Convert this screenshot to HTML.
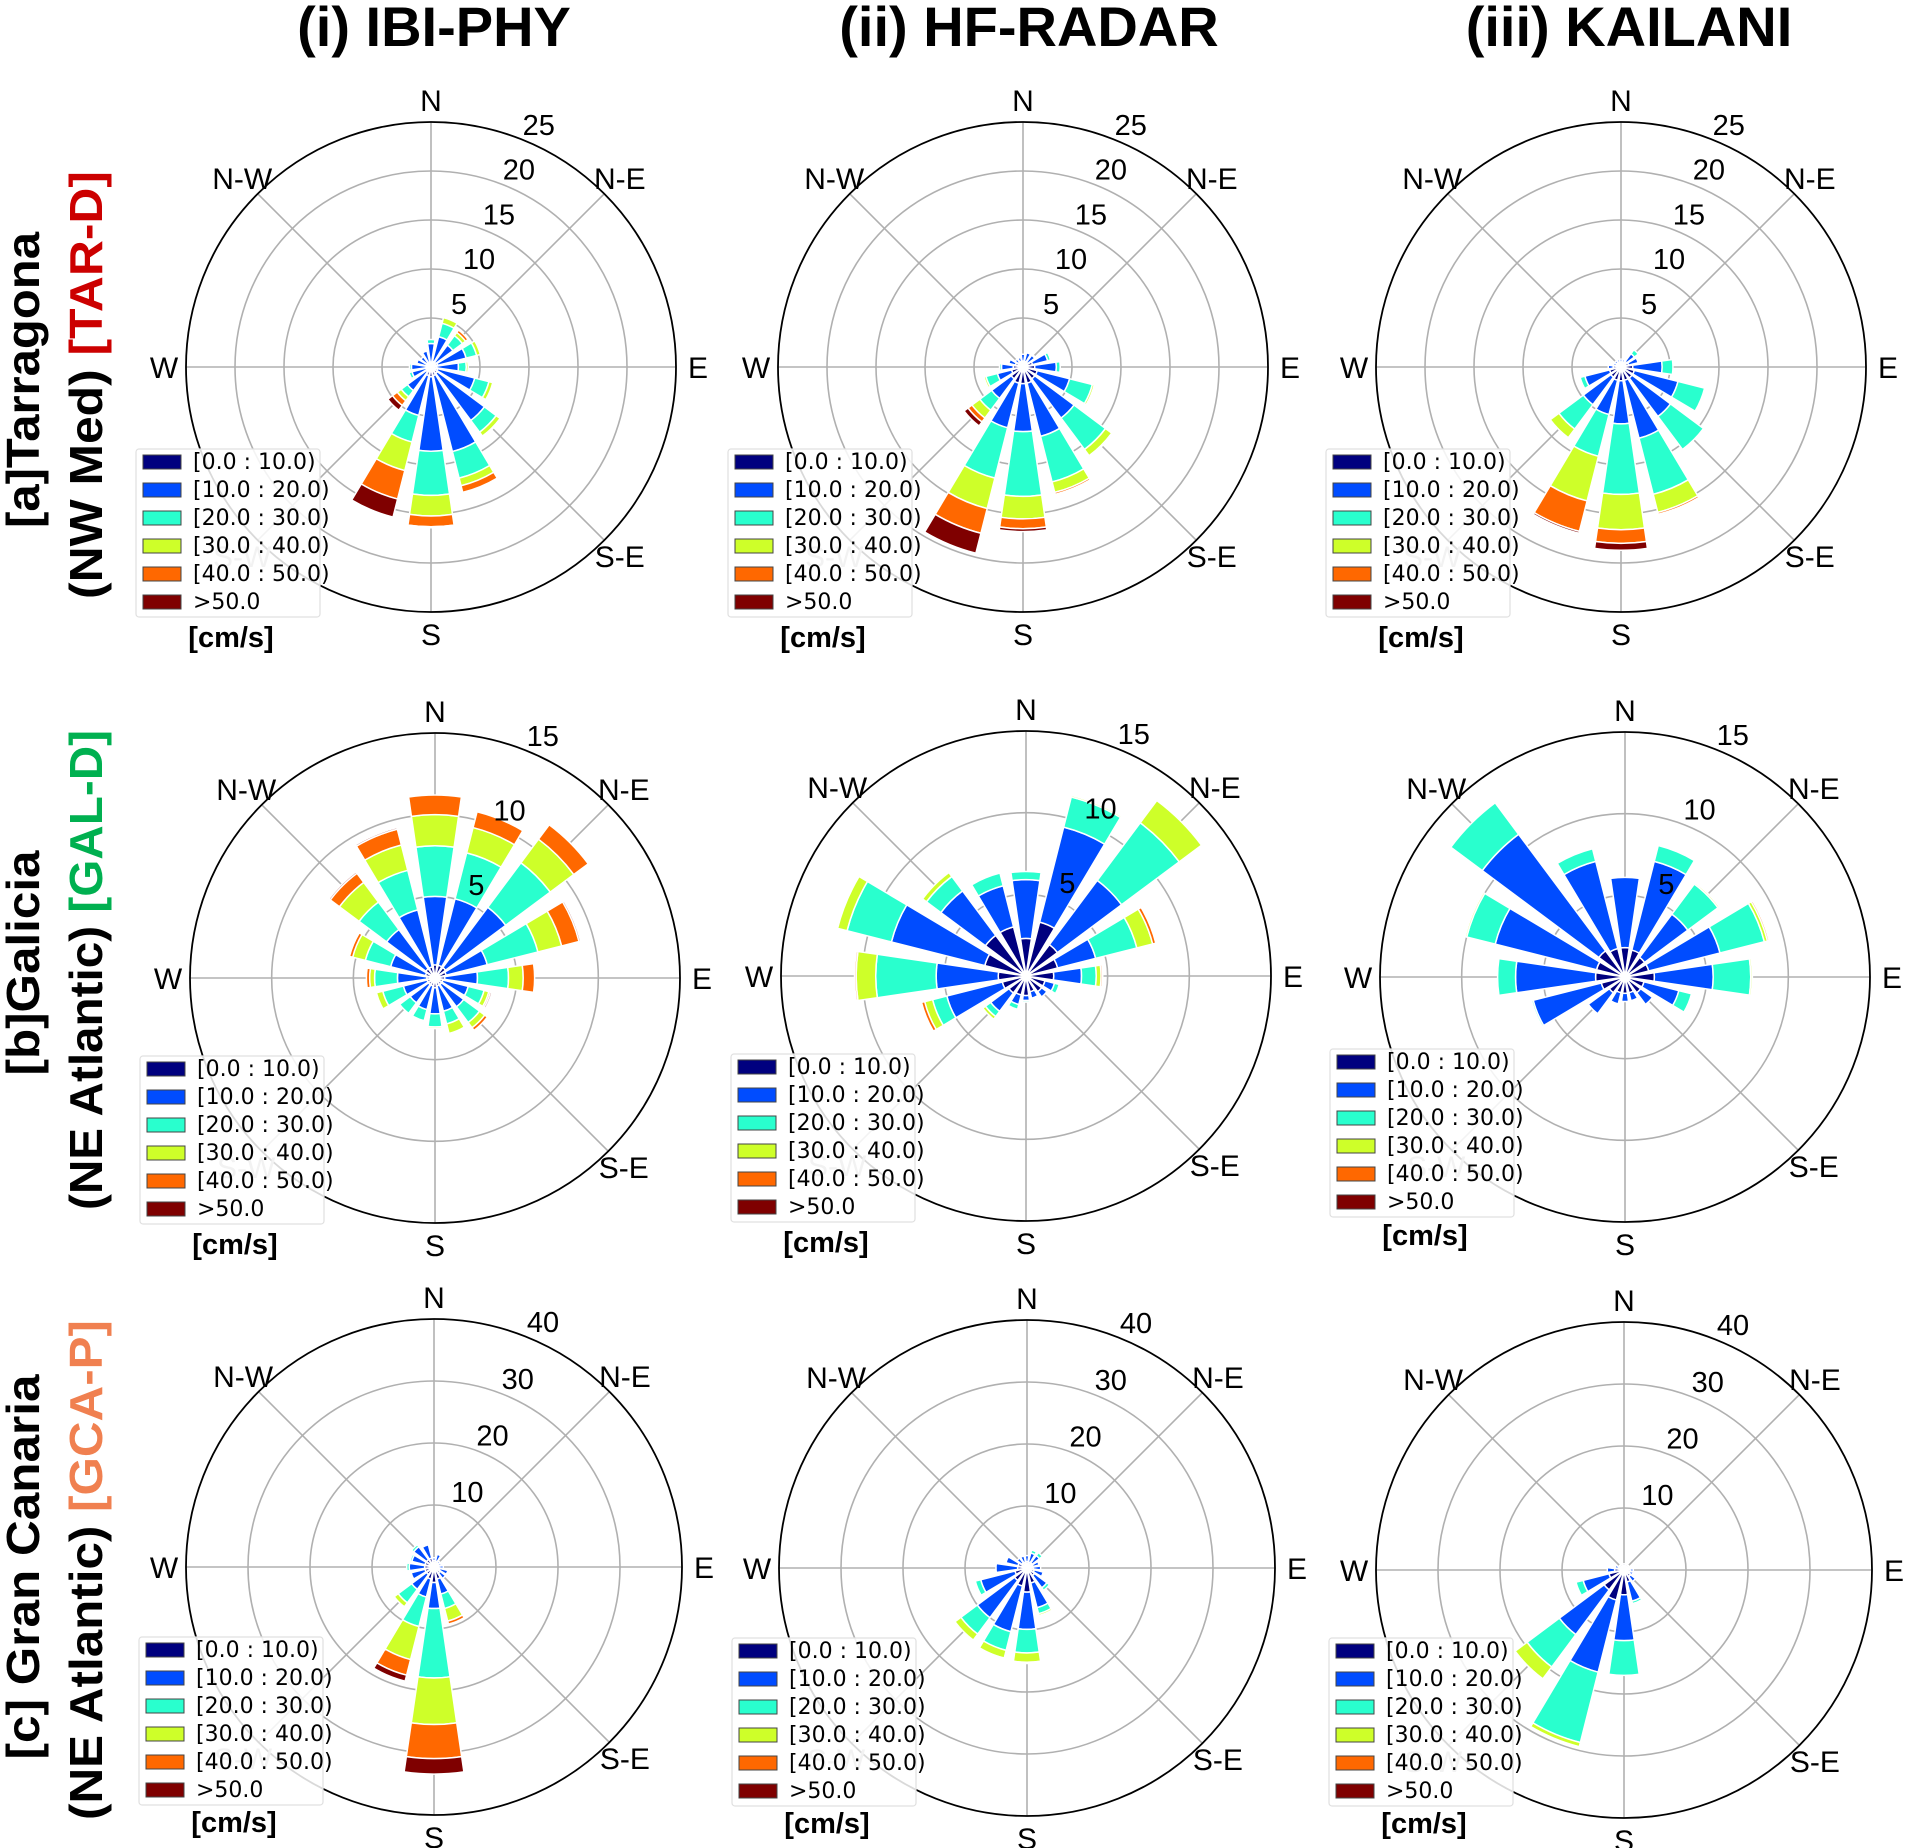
<!DOCTYPE html>
<html><head><meta charset="utf-8"><style>
html,body{margin:0;padding:0;background:#fff;}
svg{display:block;font-family:"Liberation Sans","DejaVu Sans",sans-serif;}
.lg{font-family:"DejaVu Sans","Liberation Sans",sans-serif;}
</style></head><body>
<svg id="fig" width="1910" height="1848" viewBox="0 0 1910 1848" xmlns="http://www.w3.org/2000/svg">
<g font-weight="bold" font-size="56" text-anchor="middle">
<text x="434" y="46">(i) IBI-PHY</text>
<text x="1029" y="46">(ii) HF-RADAR</text>
<text x="1629" y="46">(iii) KAILANI</text>
</g>
<g font-weight="bold" font-size="46" text-anchor="middle">
<text transform="translate(39,380) rotate(-90)" textLength="296" lengthAdjust="spacingAndGlyphs">[a]Tarragona</text>
<text transform="translate(102,385) rotate(-90)" textLength="428" lengthAdjust="spacingAndGlyphs">(NW Med) <tspan fill="#cc0000">[TAR-D]</tspan></text>
<text transform="translate(39,963) rotate(-90)" textLength="225" lengthAdjust="spacingAndGlyphs">[b]Galicia</text>
<text transform="translate(102,970) rotate(-90)" textLength="480" lengthAdjust="spacingAndGlyphs">(NE Atlantic) <tspan fill="#00b050">[GAL-D]</tspan></text>
<text transform="translate(39,1567) rotate(-90)" textLength="385" lengthAdjust="spacingAndGlyphs">[c] Gran Canaria</text>
<text transform="translate(102,1570) rotate(-90)" textLength="500" lengthAdjust="spacingAndGlyphs">(NE Atlantic) <tspan fill="#f08050">[GCA-P]</tspan></text>
</g>
</svg>
<script>
// Direction order: N, NNE, NE, ENE, E, ESE, SE, SSE, S, SSW, SW, WSW, W, WNW, NW, NNW
// Each row: frequency (%) in speed bins [0-10),[10-20),[20-30),[30-40),[40-50),>50
const speedBins = ["[0.0 : 10.0)","[10.0 : 20.0)","[20.0 : 30.0)","[30.0 : 40.0)","[40.0 : 50.0)",">50.0"];
const binColors = ["#00007f","#004cff","#29ffce","#ceff29","#ff6800","#7f0000"];
const dirLabels = ["N","N-E","E","S-E","S","S-W","W","N-W"];
const ticksTar = [5,10,15,20,25];
const ticksGal = [5,10,15];
const ticksGca = [10,20,30,40];

const tarIbi = [[0.5,1.9,0.4,0,0,0],[0.6,2.6,1.4,0.6,0,0],[0.6,2.2,1.2,0.4,0.3,0],[0.7,3,1.1,0.4,0.1,0],[0.6,2.2,0.8,0.2,0,0],[0.7,3.9,1.5,0.4,0,0],[0.8,6,1.5,0.5,0.1,0],[0.9,8,2.8,0.8,0.7,0],[1,7.6,4.5,2.1,1.1,0.1],[0.9,4.2,2.8,3,3,1.9],[0.6,2.4,0.8,0.5,0.6,0.6],[0.5,1.5,0.3,0,0,0],[0.5,1.5,0.2,0,0,0],[0.5,1,0,0,0,0],[0.5,0.8,0,0,0,0],[0.5,1.2,0.1,0,0,0]];
const tarHf = [[0.6,0.7,0,0,0,0],[0.6,0.9,0,0,0,0],[0.6,0.9,0.1,0,0,0],[1,1.6,0.3,0,0,0],[1.2,2.2,0.4,0,0,0],[1.5,3.4,2.4,0.2,0,0],[1.5,5,4,0.8,0.1,0],[1.7,5.6,4.8,1.1,0.2,0],[1.7,4.9,6.6,2.3,1,0.3],[1.7,4.7,5.3,3.2,2.6,2.1],[1.5,2.5,1.5,1,0.5,0.5],[1.2,1.5,1.2,0.2,0,0],[1,1.2,0.2,0,0,0],[0.8,0.7,0,0,0,0],[0.6,0.4,0,0,0,0],[0.6,0.4,0,0,0,0]];
const tarKai = [[0.5,0.3,0,0,0,0],[0.5,0.3,0,0,0,0],[0.7,1,0.5,0,0,0],[0.8,1,0,0,0,0],[1.2,3,1.1,0,0,0],[1.4,4.6,2.8,0,0,0],[1.4,4.9,4.2,0,0,0],[1.4,6.1,5.9,1.9,0.2,0],[1.4,4.4,7.2,3.6,1.4,0.7],[1.4,3.6,4.4,4.7,3.2,0.2],[1.3,3.5,3.1,1.1,0,0],[1.2,2.6,0.5,0,0,0],[0.8,0.5,0,0,0,0],[0.5,0.3,0,0,0,0],[0.5,0.3,0,0,0,0],[0.5,0.3,0,0,0,0]];

const galIbi = [[0.8,4.2,3.1,1.9,1.2,0],[0.8,4.2,2.9,1.6,1,0],[0.8,4.6,3.4,1.8,1.1,0],[0.7,2.6,3.2,1.5,1.1,0.1],[0.6,2,1.9,0.9,0.7,0],[0.5,1.6,1,0.3,0.1,0.1],[0.5,1.7,1.2,0.4,0.2,0],[0.5,1.6,0.8,0.6,0,0],[0.6,1.6,0.8,0.1,0,0],[0.5,1.5,0.7,0,0,0],[0.5,1.4,0.8,0,0,0],[0.5,1.5,1.3,0.4,0,0],[0.5,1.8,1.4,0.3,0.2,0],[0.6,2.2,1.6,0.8,0.2,0],[0.7,3,2.1,1.5,0.7,0.1],[0.7,3.6,2.5,1.6,1,0.1]];
const galHf = [[2.3,3.6,0.5,0,0,0],[3.4,6,1.9,0.1,0,0],[2.4,4.9,4.4,1.7,0,0],[2,2.4,2.6,1,0.2,0],[1.7,1.7,0.9,0.3,0.1,0],[1.2,0.6,0.3,0,0,0],[1.2,0.4,0,0,0,0],[1,0.4,0,0,0,0],[1.2,0.3,0.1,0,0,0],[1.2,0.6,0.3,0,0,0],[1.3,1.4,0.4,0.2,0,0],[1.5,3.5,0.9,0.5,0.2,0],[1.7,3.8,3.7,1.2,0.1,0],[2.6,5.9,2.8,0.6,0,0],[3.1,3.4,1.1,0.3,0,0],[3.1,2.6,0.8,0,0,0]];
const galKai = [[1.8,4.3,0,0,0,0],[1.7,5.6,1,0,0,0],[1.5,3.3,2.3,0.1,0,0],[1.5,4.5,2.8,0.2,0.1,0],[1.8,3.6,2.3,0.1,0,0],[1.2,2.2,0.8,0,0,0],[1.2,0.9,0,0,0,0],[1,0.5,0,0,0,0],[1,0.5,0,0,0,0],[1,0.7,0,0,0,0],[1.2,1.6,0,0,0,0],[1.5,4.3,0.1,0,0,0],[1.8,4.9,1.1,0,0,0],[1.8,6.4,1.8,0.1,0,0],[2,8.9,2.4,0,0,0],[1.8,5.5,0.8,0,0,0]];

const gcaIbi = [[1,0.5,0,0,0,0],[1,1.1,0,0,0,0],[0.8,0.4,0,0,0,0],[0.8,0.4,0,0,0,0],[0.8,0.7,0,0,0,0],[1,1.3,0,0,0,0],[1.2,1.1,0,0,0,0],[2,2.5,2.4,2.1,0.5,0],[2.5,4.2,11.2,7.5,5.5,2.5],[2,3,4.9,5.5,2.6,1],[1.5,3,2.7,0.8,0,0],[1.5,2.3,0,0,0,0],[1.5,2.5,0.4,0,0,0],[1.5,2.2,0.3,0,0,0],[1.5,2.6,0.4,0,0,0],[1.5,2.2,0,0,0,0]];
const gcaHf = [[1,1,0,0,0,0],[1,1.5,0.5,0.2,0,0],[1,1.5,0.6,0,0,0],[1,1,0,0,0,0],[1,1.2,0,0,0,0],[1.2,1.5,0,0,0,0],[1.5,2.5,0.5,0,0,0],[2.5,4.1,1,0.3,0,0],[3.9,6,3.8,1.5,0.1,0.1],[3,7.6,3.1,1.3,0.1,0.1],[2.5,7.5,3.3,1.2,0,0],[2,5.7,0.9,0,0,0],[1.5,3.5,0,0,0,0],[1.5,2,0,0,0,0],[1,1,0,0,0,0],[1,1,0,0,0,0]];
const gcaKai = [[1,0,0,0,0,0],[1,0,0,0,0,0],[1,0,0,0,0,0],[1,0,0,0,0,0],[1,0.5,0,0,0,0],[1,0.5,0,0,0,0],[1.3,1,0,0,0,0],[2,3.2,0.4,0,0,0],[4,7.4,5.6,0,0,0],[5,12,11.7,0.7,0,0],[4,9,6.5,2.4,0,0],[2.5,4.3,1.2,0.1,0,0],[1.5,1.2,0,0,0,0],[1,0.5,0,0,0,0],[1,0,0,0,0,0],[1,0,0,0,0,0]];

const panels = [
  {name:"tarragona-ibi-phy", data:tarIbi, ticks:ticksTar, cx:431, cy:367, R:245, lgy:82, uy:280},
  {name:"tarragona-hf-radar", data:tarHf, ticks:ticksTar, cx:1023, cy:367, R:245, lgy:82, uy:280},
  {name:"tarragona-kailani", data:tarKai, ticks:ticksTar, cx:1621, cy:367, R:245, lgy:82, uy:280},
  {name:"galicia-ibi-phy", data:galIbi, ticks:ticksGal, cx:435, cy:978, R:245, lgy:78, uy:276},
  {name:"galicia-hf-radar", data:galHf, ticks:ticksGal, cx:1026, cy:976, R:245, lgy:78, uy:276},
  {name:"galicia-kailani", data:galKai, ticks:ticksGal, cx:1625, cy:977, R:245, lgy:72, uy:268},
  {name:"gran-canaria-ibi-phy", data:gcaIbi, ticks:ticksGca, cx:434, cy:1567, R:248, lgy:70, uy:265},
  {name:"gran-canaria-hf-radar", data:gcaHf, ticks:ticksGca, cx:1027, cy:1568, R:248, lgy:70, uy:265},
  {name:"gran-canaria-kailani", data:gcaKai, ticks:ticksGca, cx:1624, cy:1570, R:248, lgy:68, uy:263}
];

const NS = "http://www.w3.org/2000/svg";
const svg = document.getElementById("fig");
function mk(tag, attrs, parent){
  const e = document.createElementNS(NS, tag);
  for (const k in attrs) e.setAttribute(k, attrs[k]);
  parent.appendChild(e);
  return e;
}
function pt(cx, cy, r, deg){
  const a = deg*Math.PI/180;
  return [cx + r*Math.sin(a), cy - r*Math.cos(a)];
}
function sector(cx, cy, r0, r1, a0, a1){
  const p0 = pt(cx,cy,r1,a0), p1 = pt(cx,cy,r1,a1), p2 = pt(cx,cy,r0,a1), p3 = pt(cx,cy,r0,a0);
  return "M"+p0[0]+","+p0[1]+" A"+r1+","+r1+" 0 0 1 "+p1[0]+","+p1[1]+
         " L"+p2[0]+","+p2[1]+" A"+r0+","+r0+" 0 0 0 "+p3[0]+","+p3[1]+" Z";
}

panels.forEach(function(p){
  const maxV = p.ticks[p.ticks.length-1];
  const rScale = function(v){ return v/maxV*p.R; };
  const g = mk("g", {}, svg);
  
  
  p.ticks.forEach(function(t, i){
    if (i === p.ticks.length-1) return;
    const c = mk("circle", {cx:p.cx, cy:p.cy, r:rScale(t), fill:"none", stroke:"#b0b0b0", "stroke-width":1.6}, g);
    
    
  });
  for (let k=0;k<8;k++){
    const e = pt(p.cx,p.cy,p.R,k*45);
    const l = mk("line", {x1:p.cx, y1:p.cy, x2:e[0], y2:e[1], stroke:"#b0b0b0", "stroke-width":1.6}, g);
    
    
  }
  const oc = mk("circle", {cx:p.cx, cy:p.cy, r:p.R, fill:"none", stroke:"#000", "stroke-width":1.8}, g);
  
  
  const half = 8.3;
  p.data.forEach(function(row, d){
    let cum = 0;
    const ang = d*22.5;
    row.forEach(function(v, b){
      if (v <= 0) return;
      const r0 = rScale(cum), r1 = rScale(cum+v);
      cum += v;
      const s = mk("path", {d:sector(p.cx,p.cy,r0,r1,ang-half,ang+half), fill:binColors[b], stroke:"#fff", "stroke-width":1.5}, g);
      
      
    });
  });
  p.ticks.forEach(function(t){
    const q = pt(p.cx,p.cy,rScale(t)+20,24);
    const tx = mk("text", {x:q[0], y:q[1]+10, "font-size":29, "text-anchor":"middle", fill:"#000"}, g);
    tx.textContent = String(t);
    
    
  });
  dirLabels.forEach(function(lab, k){
    const q = pt(p.cx,p.cy,p.R+22,k*45);
    const col = lab === "S-W" ? "#aaa" : "#000";
    const tx = mk("text", {x:q[0], y:q[1]+11, "font-size":30, "text-anchor":"middle", fill:col}, g);
    tx.textContent = lab;
    
    
  });
  const lx = p.cx - 295, ly = p.cy + p.lgy;
  const lg = mk("g", {}, g);
  
  
  mk("rect", {x:lx, y:ly, width:184, height:168, rx:3, fill:"#fff", "fill-opacity":0.85, stroke:"#e0e0e0", "stroke-width":1.2}, lg);
  speedBins.forEach(function(lab, i){
    const yy = ly + 13 + i*28;
    const sw = mk("rect", {x:lx+7, y:yy-7, width:38, height:14, fill:binColors[i], stroke:"#444", "stroke-width":1}, lg);
    
    
    const tx = mk("text", {x:lx+57, y:yy+7, "font-size":22, "class":"lg", fill:"#000"}, lg);
    tx.textContent = lab;
    
    
  });
  const un = mk("text", {x:p.cx-200, y:p.cy+p.uy, "font-size":29, "font-weight":"bold", "text-anchor":"middle"}, g);
  un.textContent = "[cm/s]";
  
  
});
</script>
</body></html>
